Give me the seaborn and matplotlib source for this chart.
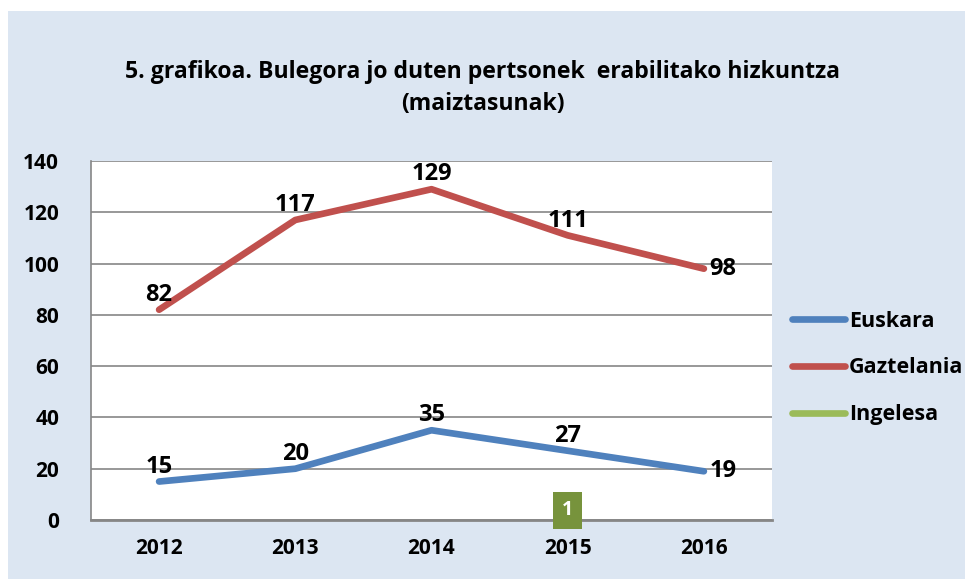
import matplotlib
matplotlib.use('Agg')
import matplotlib.pyplot as plt
import numpy as np
import pandas as pd
import seaborn as sns
from matplotlib.patches import Rectangle

years = ['2012', '2013', '2014', '2015', '2016']
euskara = [15, 20, 35, 27, 19]
gaztelania = [82, 117, 129, 111, 98]
ingelesa = [np.nan, np.nan, np.nan, 1, np.nan]
series = ['Euskara', 'Gaztelania', 'Ingelesa']
colors = ['#4F81BD', '#C0504D', '#9BBB59']

title = '5. grafikoa. Bulegora jo duten pertsonek  erabilitako hizkuntza\n(maiztasunak)'

df = pd.DataFrame({
    'year': years * 3,
    'x': list(range(len(years))) * 3,
    'value': euskara + gaztelania + ingelesa,
    'lang': [s for s in series for _ in years],
})

sns.set_theme(style='white')
plt.rcParams['font.family'] = ['Open Sans', 'DejaVu Sans']
plt.rcParams['font.weight'] = 'bold'
plt.rcParams['text.color'] = 'black'

fig = plt.figure(figsize=(9.65, 5.79), dpi=100)
fig.patch.set_facecolor('white')
fig.patches.append(Rectangle((8 / 965, 0), 957 / 965, 1 - 11 / 579, transform=fig.transFigure,
                             facecolor='#DCE6F2', edgecolor='none', zorder=-10))

ax = fig.add_axes([91 / 965, 1 - 520 / 579, (772 - 91) / 965, (520 - 161) / 579])
ax.set_facecolor('white')

lw = 4.8
sns.lineplot(data=df, x='x', y='value', hue='lang', palette=colors, linewidth=lw,
             ax=ax, legend=False, solid_capstyle='round', zorder=3)

ax.set_xlim(-0.5, 4.5)
ax.set_ylim(0, 140)
ax.set_yticks(range(0, 141, 20))
ax.set_xticks(range(len(years)))
ax.set_xticklabels(years)
ax.yaxis.grid(True, color='#868686', linewidth=1.2)
ax.set_axisbelow(True)
for side in ['top', 'right']:
    ax.spines[side].set_visible(False)
ax.spines['left'].set_color('#868686')
ax.spines['left'].set_linewidth(1.2)
ax.spines['bottom'].set_color('#868686')
ax.spines['bottom'].set_linewidth(2)
ax.tick_params(axis='both', length=0, labelsize=15, labelcolor='black')
ax.tick_params(axis='x', pad=13)
ax.tick_params(axis='y', pad=23)
for lab in ax.get_xticklabels() + ax.get_yticklabels():
    lab.set_fontweight('bold')
ax.set_xlabel('')
ax.set_ylabel('')

# data labels
for vals in [euskara, gaztelania]:
    for i, v in enumerate(vals):
        if i == len(vals) - 1:
            ax.annotate(str(v), (i, v), xytext=(4, 0), textcoords='offset points',
                        ha='left', va='center', fontsize=17, fontweight='bold', color='black', zorder=5)
        else:
            ax.annotate(str(v), (i, v), xytext=(0, 2), textcoords='offset points',
                        ha='center', va='bottom', fontsize=17, fontweight='bold', color='black', zorder=5)
for i, v in enumerate(ingelesa):
    if not np.isnan(v):
        ax.annotate(str(v), (i, v), xytext=(0, 5), textcoords='offset points',
                    ha='center', va='center', fontsize=14, fontweight='bold', color='white',
                    bbox=dict(boxstyle='square,pad=0.45', facecolor='#77933C', edgecolor='none'),
                    zorder=6, annotation_clip=False)

fig.text(0.5, 1 - 88 / 579, title, ha='center', va='center', fontsize=16.6, fontweight='bold',
         color='black', linespacing=1.4)

# legend
handles = [plt.Line2D([0], [0], color=c, linewidth=lw, solid_capstyle='round') for c in colors]
leg = fig.legend(handles, series, loc='upper left', bbox_to_anchor=(783 / 965, 1 - 302 / 579),
                 frameon=False, handlelength=2.5, handletextpad=0.15, labelspacing=1.2,
                 borderaxespad=0, prop={'weight': 'bold', 'size': 15.5})
for t in leg.get_texts():
    t.set_color('black')

fig.savefig('out.png', dpi=100, facecolor=fig.get_facecolor())
